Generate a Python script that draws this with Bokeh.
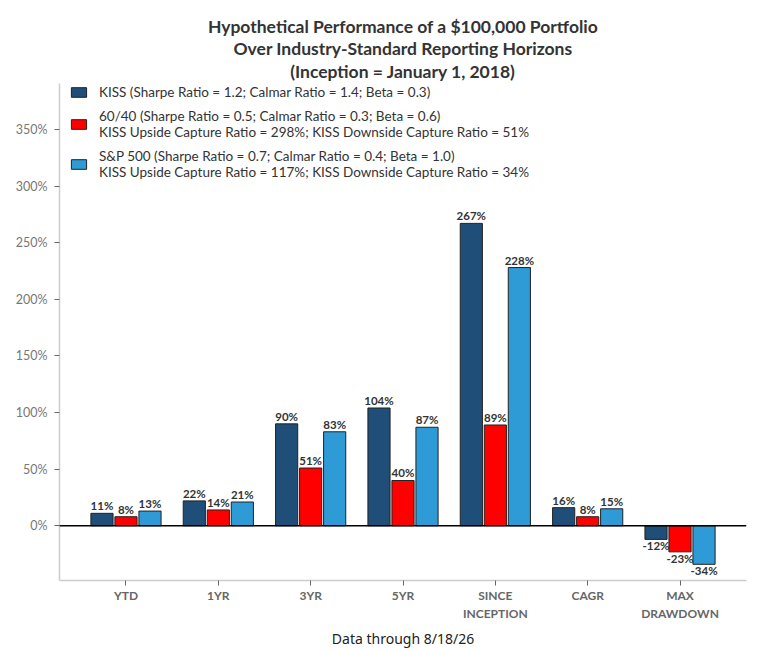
from bokeh.plotting import figure
from bokeh.models import (ColumnDataSource, Range1d, Span, FixedTicker, PrintfTickFormatter,
                          Legend, LegendItem, Title)
from bokeh.core.properties import value
from bokeh.embed import file_html
from bokeh.resources import INLINE

# Categories (horizons) and the three series, in percent
categories = ["YTD", "1YR", "3YR", "5YR", "SINCE\nINCEPTION", "CAGR", "MAX\nDRAWDOWN"]
kiss = [11, 22, 90, 104, 267, 16, -12]
sixty_forty = [8, 14, 51, 40, 89, 8, -23]
sp500 = [13, 21, 83, 87, 228, 15, -34]

series_names = [
    "KISS (Sharpe Ratio = 1.2; Calmar Ratio = 1.4; Beta = 0.3)",
    "60/40 (Sharpe Ratio = 0.5; Calmar Ratio = 0.3; Beta = 0.6)\nKISS Upside Capture Ratio = 298%; KISS Downside Capture Ratio = 51%",
    "S&P 500 (Sharpe Ratio = 0.7; Calmar Ratio = 0.4; Beta = 1.0)\nKISS Upside Capture Ratio = 117%; KISS Downside Capture Ratio = 34%",
]
title_lines = [
    "Hypothetical Performance of a $100,000 Portfolio",
    "Over Industry-Standard Reporting Horizons",
    "(Inception = January 1, 2018)",
]
colors = ["#1f4e79", "#ff0000", "#2e9bd7"]
y_ticks = [0, 50, 100, 150, 200, 250, 300, 350]

p = figure(width=761, height=650, output_backend="svg", toolbar_location=None, title=None,
           x_range=Range1d(-0.72, 6.72), y_range=Range1d(-48.3, 390.5),
           min_border_left=59, min_border_right=15, min_border_bottom=69, min_border_top=83)

# title lines, added nearest-first
standoffs = [3, -2, 0]
for line, so in zip(reversed(title_lines), standoffs):
    p.add_layout(Title(text=line, align="center", standoff=so,
                       text_font="Lato", text_font_style="bold", text_font_size="17.5px",
                       text_color="#333333"), "above")

p.xgrid.visible = False
p.ygrid.visible = False
p.outline_line_color = None

offsets = [-0.26, 0.0, 0.26]
bar_w = 0.24
items = []
for vals, off, col, name in zip([kiss, sixty_forty, sp500], offsets, colors, series_names):
    xs = [i + off for i in range(len(categories))]
    labels = [f"{v}%" for v in vals]
    src = ColumnDataSource(dict(x=xs, top=vals))
    r = p.vbar(x="x", top="top", width=bar_w, source=src, fill_color=col,
               line_color="#222222", line_width=1)
    items.append(LegendItem(label=name, renderers=[r]))
    pos = ColumnDataSource(dict(x=[x for x, v in zip(xs, vals) if v >= 0],
                                y=[v for v in vals if v >= 0],
                                label=[l for l, v in zip(labels, vals) if v >= 0]))
    neg = ColumnDataSource(dict(x=[x for x, v in zip(xs, vals) if v < 0],
                                y=[v for v in vals if v < 0],
                                label=[l for l, v in zip(labels, vals) if v < 0]))
    p.text(x="x", y="y", text="label", source=pos, text_align="center", text_baseline="bottom",
           y_offset=-1, text_font=value("Lato"), text_font_style="bold",
           text_font_size="11.5px", text_color="#333333")
    p.text(x="x", y="y", text="label", source=neg, text_align="center", text_baseline="top",
           y_offset=0, text_font=value("Lato"), text_font_style="bold",
           text_font_size="11.5px", text_color="#333333")

p.add_layout(Span(location=0, dimension="width", line_color="black", line_width=1.5))

legend = Legend(items=items, location=(10, 400), spacing=8, padding=0, margin=0,
                glyph_width=19, glyph_height=12, label_standoff=11,
                label_text_font="Lato", label_text_font_size="13.5px", label_text_color="#333333",
                border_line_color=None, background_fill_alpha=0)
p.add_layout(legend)

# y axis
p.yaxis.ticker = FixedTicker(ticks=y_ticks)
p.yaxis.formatter = PrintfTickFormatter(format="%d%%")
p.yaxis.axis_line_color = "#cccccc"
p.yaxis.axis_line_width = 1.5
p.yaxis.major_tick_line_color = "#666666"
p.yaxis.major_tick_in = 0
p.yaxis.major_tick_out = 5
p.yaxis.minor_tick_line_color = None
p.yaxis.major_label_text_font = "Lato"
p.yaxis.major_label_text_font_size = "12.5px"
p.yaxis.major_label_text_color = "#777777"
p.yaxis.major_label_standoff = 7

# x axis
p.xaxis.ticker = FixedTicker(ticks=list(range(len(categories))))
p.xaxis.major_label_overrides = {i: c for i, c in enumerate(categories)}
p.xaxis.axis_line_color = "#cccccc"
p.xaxis.axis_line_width = 1.5
p.xaxis.major_tick_line_color = "#666666"
p.xaxis.major_tick_in = 0
p.xaxis.major_tick_out = 5
p.xaxis.minor_tick_line_color = None
p.xaxis.major_label_text_font = "Lato"
p.xaxis.major_label_text_font_style = "bold"
p.xaxis.major_label_text_font_size = "12px"
p.xaxis.major_label_text_color = "#666666"
p.xaxis.major_label_standoff = 2
p.xaxis.axis_label = "Data through 8/18/26"
p.xaxis.axis_label_text_font = "Noto Sans"
p.xaxis.axis_label_text_font_style = "normal"
p.xaxis.axis_label_text_font_size = "14px"
p.xaxis.axis_label_text_color = "#222222"
p.xaxis.axis_label_standoff = 5

open("out.html", "w").write(file_html(p, INLINE))
